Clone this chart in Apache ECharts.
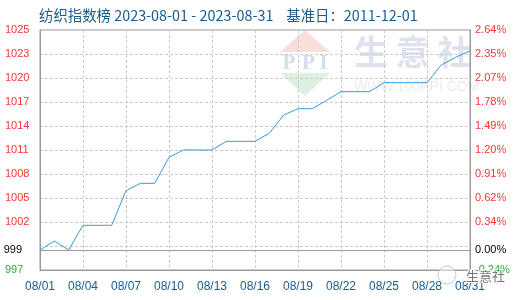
<!DOCTYPE html>
<html><head><meta charset="utf-8">
<script src="https://cdn.jsdelivr.net/npm/echarts@6/dist/echarts.min.js"></script>
<style>html,body{margin:0;padding:0;background:#fff}#c{width:520px;height:300px}</style>
</head><body><div id="c"></div>
<script>
const dates = ['08/01','08/02','08/03','08/04','08/05','08/06','08/07','08/08','08/09','08/10',
  '08/11','08/12','08/13','08/14','08/15','08/16','08/17','08/18','08/19','08/20',
  '08/21','08/22','08/23','08/24','08/25','08/26','08/27','08/28','08/29','08/30','08/31'];
const indexValues = [999.00,1000.08,999.00,1001.96,1001.96,1001.96,1006.11,1006.99,1006.99,1010.11,
  1010.99,1010.99,1010.99,1012.03,1012.03,1012.03,1012.99,1015.18,1015.94,1015.94,
  1016.94,1017.98,1017.98,1017.98,1019.06,1019.06,1019.06,1019.06,1021.18,1022.10,1022.88];
const baseValue = 999.00;
const leftTickLabels = ['997','','1002','1005','1008','1011','1014','1017','1020','1023','1025'];
const rightTickLabels = ['-0.24%','','0.34%','0.62%','0.91%','1.20%','1.49%','1.78%','2.07%','2.35%','2.64%'];
const baseLeftLabel = '999';
const baseRightLabel = '0.00%';
const pctMin = -0.24, pctMax = 2.64;
const titleText = '纺织指数榜 2023-08-01 - 2023-08-31    基准日：2011-12-01';

const FONT = '"Liberation Sans", Arial, sans-serif';
const CJK = '"Noto Sans CJK SC", sans-serif';
const RED = '#ff3333', GREEN = '#33aa33', BLUE = '#1a5c8c';

function tickFmt(arr) {
  return function (v) {
    const i = Math.round(v);
    const t = arr[i];
    if (!t) return '';
    return (i === 0 ? '{g|' : '{r|') + t + '}';
  };
}
const rich = {
  r: { color: RED, fontSize: 11, fontFamily: FONT },
  g: { color: GREEN, fontSize: 11, fontFamily: FONT }
};

const chart = echarts.init(document.getElementById('c'), null, { renderer: 'canvas' });
chart.setOption({
  animation: false,
  backgroundColor: '#fff',
  title: {
    text: titleText, left: 34, top: 3,
    textStyle: { color: BLUE, fontSize: 14.4, fontWeight: 'normal', fontFamily: CJK }
  },
  grid: { left: 40, right: 50, top: 30, bottom: 30, show: true, borderColor: '#999', borderWidth: 1, backgroundColor: 'transparent' },
  graphic: { elements: [
    { type: 'polygon', z: -10, shape: { points: [[280,52],[305,30],[330,52]] }, style: { fill: '#f9dedb' } },
    { type: 'polygon', z: -10, shape: { points: [[280,73],[330,73],[305,96]] }, style: { fill: '#ddf0e1' } },
    { type: 'text', z: -10, x: 289, y: 64, style: { text: 'P', fill: '#d6dcea', font: 'bold 21px "Liberation Serif", serif', align: 'center', verticalAlign: 'middle' } },
    { type: 'text', z: -10, x: 308.5, y: 64, style: { text: 'P', fill: '#d6dcea', font: 'bold 21px "Liberation Serif", serif', align: 'center', verticalAlign: 'middle' } },
    { type: 'text', z: -10, x: 323.5, y: 64, style: { text: 'I', fill: '#d6dcea', font: 'bold 21px "Liberation Serif", serif', align: 'center', verticalAlign: 'middle' } },
    { type: 'text', z: -10, x: 354, y: 52, style: { text: '生 意 社', fill: '#dde2ec', font: 'bold 34px "Noto Sans CJK SC", sans-serif', align: 'left', verticalAlign: 'middle' } },
    { type: 'text', z: -10, x: 354, y: 87, style: { text: 'WWW.100PPI.COM', fill: '#ececec', font: '14px "Liberation Sans", Arial, sans-serif', align: 'left', verticalAlign: 'middle' } },
    { type: 'circle', z: 100, shape: { cx: 447, cy: 275, r: 9 }, style: { fill: 'rgba(255,255,255,0.5)', stroke: '#c8c8c8', lineWidth: 1 } },
    { type: 'text', z: 100, x: 466, y: 276, style: { text: '生意社', fill: '#777', font: '13px "Noto Sans CJK SC", sans-serif', align: 'left', verticalAlign: 'middle', stroke: '#fff', lineWidth: 2 } }
  ] },
  xAxis: {
    type: 'category', data: dates, boundaryGap: false,
    axisLine: { show: true, lineStyle: { color: '#999' } },
    axisTick: { show: false },
    axisLabel: { interval: 2, color: BLUE, fontSize: 12, fontFamily: FONT, margin: 11 },
    splitLine: { show: true, interval: 2, lineStyle: { color: '#ccc', type: [3, 2], width: 1 } }
  },
  yAxis: [
    { type: 'value', min: 0, max: 10, interval: 1, position: 'left',
      axisLine: { show: true, lineStyle: { color: '#999' } }, axisTick: { show: false },
      axisLabel: { formatter: tickFmt(leftTickLabels), rich: rich, align: 'left', margin: 35 },
      splitLine: { show: true, showMinLine: false, showMaxLine: false, lineStyle: { color: '#ccc', type: [3, 2], width: 1 } } },
    { type: 'value', min: 0, max: 10, interval: 1, position: 'right',
      axisLine: { show: true, lineStyle: { color: '#999' } }, axisTick: { show: false },
      axisLabel: { formatter: tickFmt(rightTickLabels), rich: rich, align: 'left', margin: 5 },
      splitLine: { show: false } },
    { type: 'value', show: false, position: 'left',
      min: baseValue * (1 + pctMin / 100), max: baseValue * (1 + pctMax / 100),
      splitLine: { show: false } }
  ],
  series: [{
    type: 'line', yAxisIndex: 2, data: indexValues, symbol: 'none', smooth: false,
    lineStyle: { color: '#3d98d6', width: 1 },
    markLine: {
      silent: true, symbol: ['none', 'none'],
      lineStyle: { color: '#999', type: 'solid', width: 1 },
      data: [
        { yAxis: baseValue, label: { show: true, position: 'start', distance: 18, formatter: baseLeftLabel, color: '#000', fontSize: 11, fontFamily: FONT } },
        { yAxis: baseValue, label: { show: true, position: 'end', distance: 5, formatter: baseRightLabel, color: '#000', fontSize: 11, fontFamily: FONT } }
      ]
    }
  }]
});
</script></body></html>
